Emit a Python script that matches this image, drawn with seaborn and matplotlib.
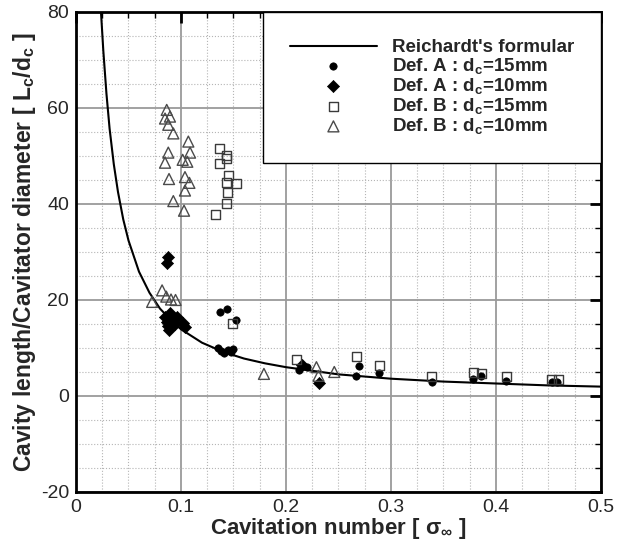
import matplotlib
matplotlib.use("Agg")
import matplotlib.pyplot as plt
import seaborn as sns
from matplotlib.ticker import MultipleLocator

# ---- data ----
curve_sigma = [0.0238, 0.026, 0.029, 0.032, 0.036, 0.040, 0.045, 0.050, 0.060, 0.070,
               0.080, 0.090, 0.100, 0.120, 0.140, 0.160, 0.180, 0.200, 0.250, 0.300,
               0.350, 0.400, 0.450, 0.500]
curve_L = [80.0, 72.0, 63.0, 55.7, 48.3, 42.5, 36.8, 32.4, 25.9, 21.5,
           18.2, 15.9, 13.9, 11.1, 9.2, 7.8, 6.8, 6.0, 4.5, 3.6,
           3.0, 2.6, 2.2, 1.95]

a15_sigma = [0.137, 0.144, 0.152, 0.135, 0.138, 0.141, 0.145, 0.148, 0.150,
             0.212, 0.216, 0.220, 0.267, 0.270, 0.289, 0.339, 0.378, 0.386,
             0.410, 0.453, 0.458]
a15_L = [17.4, 18.2, 15.8, 10.0, 9.3, 9.0, 9.6, 9.2, 9.8,
         5.5, 6.3, 6.0, 4.2, 6.2, 4.7, 3.0, 3.6, 4.1,
         3.1, 3.0, 3.0]

a10_sigma = [0.0879, 0.0870, 0.085, 0.090, 0.087, 0.092, 0.088, 0.094, 0.089, 0.096,
             0.102, 0.104, 0.215, 0.231]
a10_L = [29.0, 27.6, 16.5, 17.3, 15.5, 16.0, 14.5, 15.0, 13.8, 16.5,
         15.1, 14.4, 6.5, 2.8]

b15_sigma = [0.1365, 0.1429, 0.1429, 0.1365, 0.145, 0.1435, 0.1524, 0.1445, 0.1435, 0.1333,
             0.149, 0.210, 0.2667, 0.2886, 0.3387, 0.3784, 0.3864, 0.410, 0.453, 0.4594]
b15_L = [51.5, 50.2, 49.5, 48.5, 45.9, 44.5, 44.3, 42.4, 40.1, 37.9,
         15.1, 7.6, 8.2, 6.3, 4.0, 4.9, 4.7, 4.0, 3.5, 3.5]

b10_sigma = [0.0864, 0.0895, 0.0848, 0.0879, 0.0927, 0.107, 0.0879, 0.1086, 0.0848, 0.1016,
             0.106, 0.0886, 0.1038, 0.108, 0.1038, 0.0927, 0.1029,
             0.0820, 0.0725, 0.0860, 0.0905, 0.0948, 0.179, 0.229, 0.231, 0.246]
b10_L = [59.6, 58.2, 57.8, 56.5, 54.7, 53.0, 50.7, 50.7, 48.6, 49.2,
         48.8, 45.2, 45.6, 44.4, 42.8, 40.6, 38.6,
         22.0, 19.6, 20.7, 20.1, 20.0, 4.6, 6.0, 4.2, 5.0]

labels = ["Reichardt's formular",
          r"Def. A : d$_\mathbf{c}$=15mm",
          r"Def. A : d$_\mathbf{c}$=10mm",
          r"Def. B : d$_\mathbf{c}$=15mm",
          r"Def. B : d$_\mathbf{c}$=10mm"]

# ---- style ----
sns.set_style("white")
plt.rcParams['font.family'] = ['Liberation Sans', 'DejaVu Sans']
plt.rcParams['mathtext.fontset'] = 'custom'
plt.rcParams['mathtext.rm'] = 'Liberation Sans'
plt.rcParams['mathtext.it'] = 'Liberation Sans:italic'
plt.rcParams['mathtext.bf'] = 'Liberation Sans:bold'
plt.rcParams['axes.unicode_minus'] = False

fig = plt.figure(figsize=(6.27, 5.42), dpi=100)
ax = fig.add_axes([0.1212, 0.0923, 0.8373, 0.8856])

sns.lineplot(x=curve_sigma, y=curve_L, color='black', lw=1.5, ax=ax,
             label=labels[0], sort=False, estimator=None, zorder=3)
sns.scatterplot(x=a15_sigma, y=a15_L, marker='o', s=28, color='black',
                edgecolor='black', linewidth=0.5, ax=ax, label=labels[1], zorder=4)
sns.scatterplot(x=a10_sigma, y=a10_L, marker='D', s=38, color='black',
                edgecolor='black', linewidth=0.5, ax=ax, label=labels[2], zorder=4)
sns.scatterplot(x=b15_sigma, y=b15_L, marker='s', s=42, facecolors='none',
                edgecolor='#3a3a3a', linewidth=1.0, ax=ax, label=labels[3], zorder=5)
sns.scatterplot(x=b10_sigma, y=b10_L, marker='^', s=62, facecolors='none',
                edgecolor='#4a4a4a', linewidth=1.0, ax=ax, label=labels[4], zorder=5)

ax.set_xlim(0, 0.5)
ax.set_ylim(-20, 80)
ax.xaxis.set_major_locator(MultipleLocator(0.1))
ax.xaxis.set_minor_locator(MultipleLocator(0.025))
ax.yaxis.set_major_locator(MultipleLocator(20))
ax.yaxis.set_minor_locator(MultipleLocator(5))
ax.set_xticks([0, 0.1, 0.2, 0.3, 0.4, 0.5])
ax.set_xticklabels(['0', '0.1', '0.2', '0.3', '0.4', '0.5'])

ax.grid(which='major', color='#9a9a9a', lw=1.3, ls='-', zorder=0)
ax.grid(which='minor', color='#b5b5b5', lw=0.8, ls=':', zorder=0)
ax.set_axisbelow(True)

ax.tick_params(which='major', direction='in', length=8, width=2,
               top=True, right=True, labelsize=14, pad=5, color='black')
ax.tick_params(which='minor', direction='in', length=4, width=1,
               top=True, right=True, color='black')
for s in ax.spines.values():
    s.set_linewidth(2)
    s.set_color('black')

ax.set_xlabel(r"Cavitation number [ $\mathregular{\sigma_\infty}$ ]",
              fontsize=16, fontweight='bold', labelpad=0)
ax.set_ylabel(r"Cavity length/Cavitator diameter [ L$_\mathbf{c}$/d$_\mathbf{c}$ ]",
              fontsize=16.5, fontweight='bold', labelpad=2)

leg = ax.legend(loc='upper right', bbox_to_anchor=(1, 1), borderaxespad=0,
                frameon=True, fancybox=False, edgecolor='black',
                prop={'weight': 'bold', 'size': 13.5}, handlelength=4.6,
                borderpad=1.45, labelspacing=0.0, handletextpad=0.8,
                framealpha=1)
leg.get_frame().set_linewidth(1.0)

fig.savefig("out.png", dpi=100)
